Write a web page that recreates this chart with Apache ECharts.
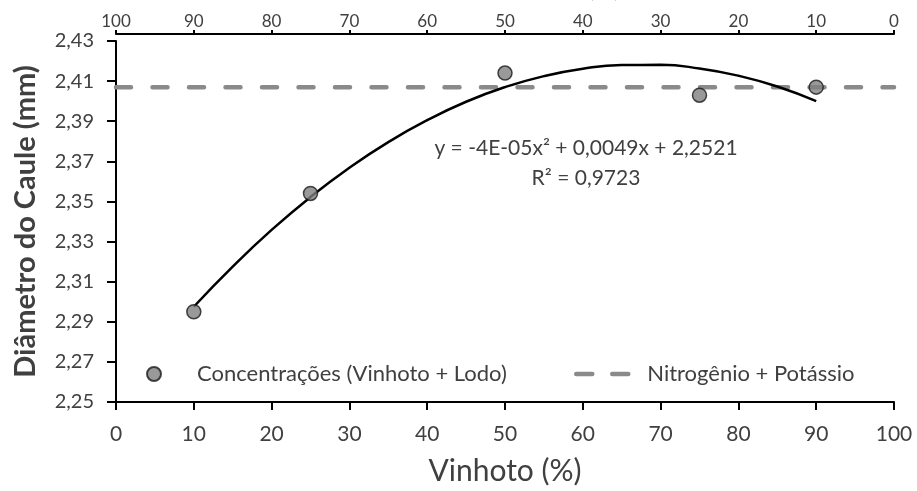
<!DOCTYPE html>
<html>
<head>
<meta charset="utf-8">
<script src="https://cdn.jsdelivr.net/npm/echarts@6/dist/echarts.min.js"></script>
<style>
  html, body { margin: 0; padding: 0; background: #fff; }
  #chart { width: 917px; height: 491px; }
</style>
</head>
<body>
<div id="chart"></div>
<script>
// pontos observados (Vinhoto %, diâmetro mm)
const vinhoto = [10, 25, 50, 75, 90];
const diametro = [2.295, 2.354, 2.414, 2.403, 2.407];
// linha de tendência polinomial
const trendX = [10, 15, 20, 25, 30, 35, 40, 45, 50, 55, 60, 65, 70, 75, 80, 85, 90];
const trendY = [2.2975, 2.3175, 2.3358, 2.3522, 2.3668, 2.3796, 2.3905, 2.3997, 2.407,
                2.4125, 2.4162, 2.418, 2.4181, 2.4163, 2.4127, 2.4073, 2.400];
// referência Nitrogênio + Potássio
const refX = [0, 100];
const refY = [2.407, 2.407];

const FONT = "Lato";
const txt = "#404040";
const cinza = "#8a8a8a";
const comma = (v) => v.toFixed(2).replace(".", ",");

const chart = echarts.init(document.getElementById("chart"));
chart.setOption({
  animation: false,
  textStyle: { fontFamily: FONT },
  grid: { left: 116, right: 23, top: 41, bottom: 86 },
  legend: [
    {
      data: [{ name: "Concentrações (Vinhoto + Lodo)", icon: "circle" }],
      left: 141,
      top: 358,
      itemWidth: 14,
      itemHeight: 14,
      textStyle: { fontFamily: FONT, fontSize: 22, color: txt, padding: [0, 0, 0, 31] },
    },
    {
      data: ["Nitrogênio + Potássio"],
      left: 569,
      top: 358,
      itemWidth: 58,
      itemHeight: 14,
      itemStyle: { opacity: 0 },
      lineStyle: { color: cinza, width: 4.5, type: [16, 20], cap: "round" },
      textStyle: { fontFamily: FONT, fontSize: 22, color: txt, padding: [0, 0, 0, 8] },
    },
  ],
  xAxis: [
    {
      type: "value",
      position: "bottom",
      min: 0,
      max: 100,
      interval: 10,
      name: "Vinhoto (%)",
      nameLocation: "middle",
      nameGap: 54,
      nameTextStyle: { fontFamily: FONT, fontSize: 30, color: txt },
      axisLine: { lineStyle: { color: "#000", width: 2 } },
      axisTick: { length: 8, lineStyle: { color: "#000", width: 2 } },
      axisLabel: { fontSize: 21, color: txt, margin: 22 },
      splitLine: { show: false },
    },
    {
      type: "value",
      position: "top",
      offset: 7,
      inverse: true,
      min: 0,
      max: 100,
      interval: 10,
      axisLine: { lineStyle: { color: "#000", width: 2 } },
      axisTick: { length: 4, lineStyle: { color: "#000", width: 2 } },
      axisLabel: { fontSize: 17, color: txt, margin: 4 },
      splitLine: { show: false },
    },
  ],
  yAxis: {
    type: "value",
    min: 2.25,
    max: 2.43,
    interval: 0.02,
    name: "Diâmetro do Caule (mm)",
    nameLocation: "middle",
    nameGap: 76,
    nameTextStyle: { fontFamily: FONT, fontSize: 29, fontWeight: "bold", color: txt },
    axisLine: { show: true, lineStyle: { color: "#000", width: 2 } },
    axisTick: { show: true, length: 9, lineStyle: { color: "#000", width: 2 } },
    axisLabel: { fontSize: 20, color: txt, margin: 22, formatter: comma },
    splitLine: { show: false },
  },
  graphic: [
    {
      type: "text",
      x: 586,
      y: 148,
      style: {
        text: "y = -4E-05x² + 0,0049x + 2,2521",
        font: "21px Lato",
        fill: txt,
        align: "center",
        verticalAlign: "middle",
      },
    },
    {
      type: "text",
      x: 586,
      y: 178,
      style: {
        text: "R² = 0,9723",
        font: "21px Lato",
        fill: txt,
        align: "center",
        verticalAlign: "middle",
      },
    },
    {
      type: "text",
      x: 575,
      y: 1,
      style: {
        text: "Lodo (%)",
        font: "24px Lato",
        fill: txt,
        align: "center",
        verticalAlign: "bottom",
      },
    },
  ],
  series: [
    {
      name: "Nitrogênio + Potássio",
      type: "line",
      data: refX.map((x, i) => [x, refY[i]]),
      symbol: "none",
      lineStyle: { color: cinza, width: 4.5, type: [15, 21.5], cap: "round" },
      itemStyle: { color: cinza },
      z: 1,
    },
    {
      name: "tendencia",
      type: "line",
      data: trendX.map((x, i) => [x, trendY[i]]),
      smooth: true,
      symbol: "none",
      lineStyle: { color: "#000", width: 2.5 },
      z: 2,
    },
    {
      name: "Concentrações (Vinhoto + Lodo)",
      type: "scatter",
      data: vinhoto.map((x, i) => [x, diametro[i]]),
      symbolSize: 14,
      itemStyle: { color: "#808080", borderColor: "#1a1a1a", borderWidth: 1.5 },
      z: 3,
    },
  ],
});
</script>
</body>
</html>
